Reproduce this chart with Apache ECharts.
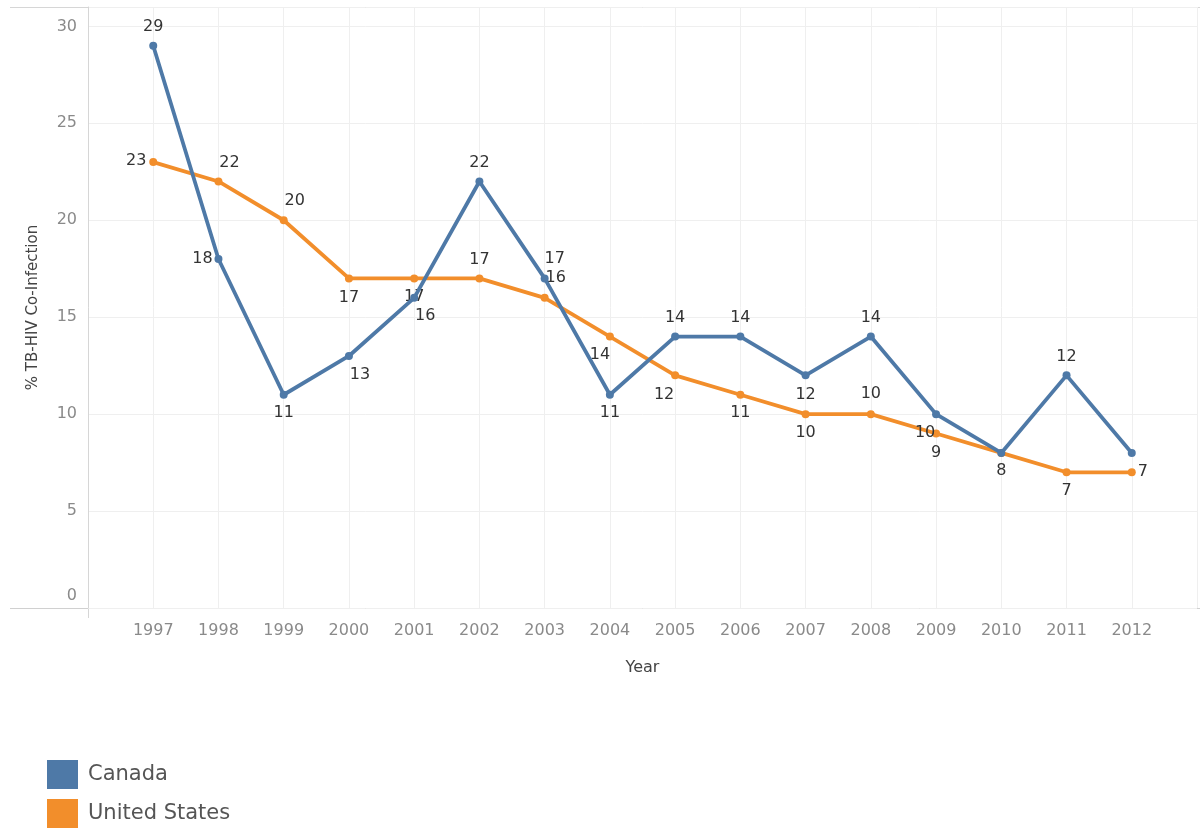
<!DOCTYPE html>
<html>
<head>
<meta charset="utf-8">
<title>TB-HIV Co-Infection</title>
<script src="https://cdn.jsdelivr.net/npm/echarts@6/dist/echarts.min.js"></script>
<style>
  html, body { margin: 0; padding: 0; background: #fff; }
  #chart { width: 1200px; height: 834px; }
</style>
</head>
<body>
<div id="chart"></div>
<script>
// Years on the horizontal axis
const years = [1997, 1998, 1999, 2000, 2001, 2002, 2003, 2004, 2005, 2006, 2007, 2008, 2009, 2010, 2011, 2012];

// % of TB cases with HIV co-infection
const canada = [29, 18, 11, 13, 16, 22, 17, 11, 14, 14, 12, 14, 10, 8, 12, 8];
const unitedStates = [23, 22, 20, 17, 17, 17, 16, 14, 12, 11, 10, 10, 9, 8, 7, 7];

// Y-axis tick values
const yTicks = [0, 5, 10, 15, 20, 25, 30];

// Label offsets (dx, dy) from each point, null = label hidden
const canadaLabelOffsets = [
  [0, -19], [-16, 0], [0, 18], [11, 19], [11, 18], [0, -19], [10, -20], [0, 18],
  [0, -19], [0, -19], [0, 19], [0, -19], [-11, 19], [0, 18], [0, -19], null
];
const usLabelOffsets = [
  [-17, -1], [11, -19], [11, -19], [0, 19], [0, 18], [0, -19], [11, -20], [-10, 18],
  [-11, 19], [0, 18], [0, 19], [0, -20], [0, 19], null, [0, 19], [11, 0]
];

const BLUE = '#4e79a7';
const ORANGE = '#f28e2b';
const FONT = '"DejaVu Sans", sans-serif';

function buildPoints(values, offsets) {
  return values.map((v, i) => {
    const off = offsets[i];
    return {
      value: [years[i], v],
      label: off
        ? { show: true, position: 'inside', offset: off }
        : { show: false }
    };
  });
}

function makeSeries(name, values, offsets, color) {
  return {
    name: name,
    type: 'line',
    data: buildPoints(values, offsets),
    color: color,
    symbol: 'circle',
    symbolSize: 8,
    lineStyle: { width: 3.8, color: color },
    itemStyle: { color: color },
    label: {
      show: true,
      color: '#333',
      fontFamily: FONT,
      fontSize: 16,
      formatter: p => p.value[1]
    },
    emphasis: { disabled: true },
    z: name === 'Canada' ? 3 : 2
  };
}

const chart = echarts.init(document.getElementById('chart'), null, { renderer: 'canvas' });

chart.setOption({
  animation: false,
  backgroundColor: '#fff',
  grid: { left: 88, right: 0, top: 7, bottom: 226, containLabel: false },
  xAxis: {
    type: 'value',
    min: years[0] - 1,
    max: years[years.length - 1] + 1,
    interval: 1,
    name: 'Year',
    nameLocation: 'middle',
    nameGap: 52,
    nameTextStyle: { color: '#444', fontFamily: FONT, fontSize: 16 },
    axisLine: { show: false },
    axisTick: { show: false },
    axisLabel: {
      color: '#8a8a8a',
      fontFamily: FONT,
      fontSize: 16,
      margin: 15,
      formatter: v => (years.indexOf(v) >= 0 ? String(v) : '')
    },
    splitLine: { show: true, lineStyle: { color: '#efefef', width: 1 } }
  },
  yAxis: {
    type: 'value',
    min: yTicks[0],
    max: 31,
    interval: 5,
    name: '% TB-HIV Co-Infection',
    nameLocation: 'middle',
    nameGap: 47,
    nameRotate: 90,
    nameTextStyle: { color: '#444', fontFamily: FONT, fontSize: 15 },
    axisLine: { show: true, lineStyle: { color: '#d6d6d6', width: 1 } },
    axisTick: { show: false },
    axisLabel: {
      color: '#8a8a8a',
      fontFamily: FONT,
      fontSize: 16,
      margin: 11,
      showMaxLabel: false,
      formatter: v => (yTicks.indexOf(v) >= 0 ? (v === 0 ? '{z|0}' : String(v)) : ''),
      rich: { z: { color: '#8a8a8a', fontFamily: FONT, fontSize: 16, padding: [0, 0, 24, 0] } }
    },
    splitLine: { show: true, lineStyle: { color: '#efefef', width: 1 } }
  },
  legend: {
    orient: 'vertical',
    left: 47,
    top: 760,
    padding: 0,
    icon: 'rect',
    itemWidth: 31,
    itemHeight: 29,
    itemGap: 10,
    selectedMode: false,
    data: ['Canada', 'United States'],
    textStyle: { color: '#555', fontFamily: FONT, fontSize: 21, padding: [0, 0, 0, 5] }
  },
  graphic: [
    { type: 'line', shape: { x1: 10, y1: 7.5, x2: 1200, y2: 7.5 }, style: { stroke: '#d6d6d6', lineWidth: 1 }, silent: true },
    { type: 'line', shape: { x1: 10, y1: 608.5, x2: 1200, y2: 608.5 }, style: { stroke: '#d0d0d0', lineWidth: 1 }, silent: true },
    { type: 'line', shape: { x1: 88.5, y1: 608, x2: 88.5, y2: 618 }, style: { stroke: '#d6d6d6', lineWidth: 1 }, silent: true }
  ],
  series: [
    makeSeries('Canada', canada, canadaLabelOffsets, BLUE),
    makeSeries('United States', unitedStates, usLabelOffsets, ORANGE)
  ]
});
</script>
</body>
</html>
